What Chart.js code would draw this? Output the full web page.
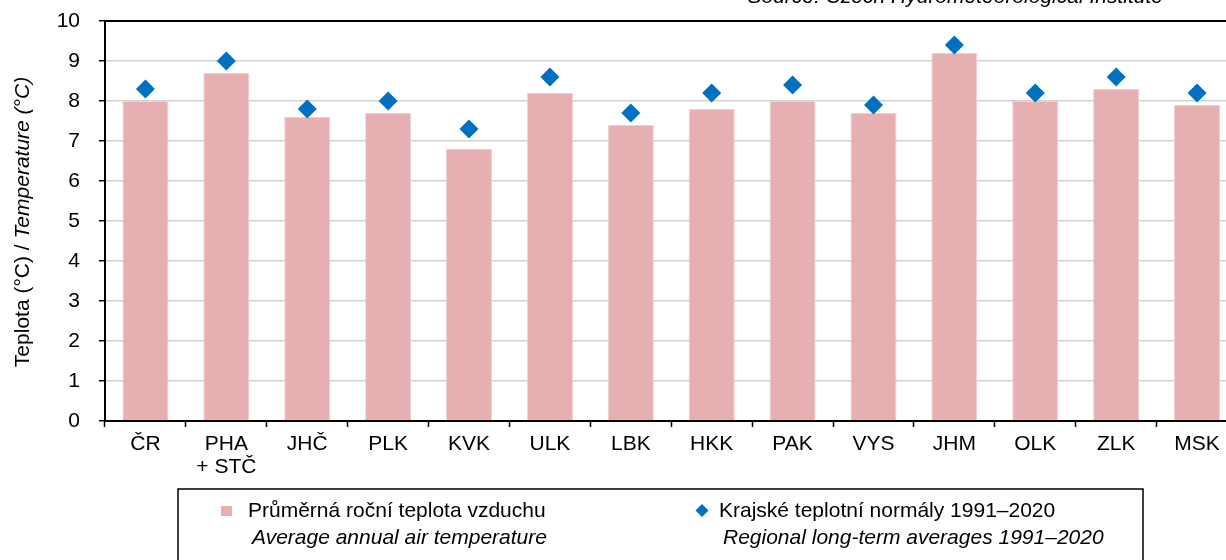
<!DOCTYPE html>
<html>
<head>
<meta charset="utf-8">
<script src="https://cdn.jsdelivr.net/npm/chart.js@4.4.0/dist/chart.umd.min.js"></script>
<style>
html, body { margin: 0; padding: 0; background: #fff; overflow: hidden; }
#wrap { width: 1247px; height: 560px; position: relative; }
</style>
</head>
<body>
<div id="wrap"><canvas id="chart"></canvas></div>
<script>
var regions = ['ČR', ['PHA', '+ STČ'], 'JHČ', 'PLK', 'KVK', 'ULK', 'LBK', 'HKK', 'PAK', 'VYS', 'JHM', 'OLK', 'ZLK', 'MSK'];
var avgTemp = [8.0, 8.7, 7.6, 7.7, 6.8, 8.2, 7.4, 7.8, 8.0, 7.7, 9.2, 8.0, 8.3, 7.9];
var normals = [8.3, 9.0, 7.8, 8.0, 7.3, 8.6, 7.7, 8.2, 8.4, 7.9, 9.4, 8.2, 8.6, 8.2];
var yMin = 0, yMax = 10, yStep = 1;

var legendCz = ['Průměrná roční teplota vzduchu', 'Krajské teplotní normály 1991–2020'];
var legendEn = ['Average annual air temperature', 'Regional long-term averages 1991–2020'];

var FONT = '"Liberation Sans", Arial, sans-serif';
var FS = 21;
var barColor = '#e6b0b3';
var dotColor = '#0070c0';

// extra texts: source line, y title, top border, two-language legend
var extras = {
    id: 'extras',
    afterDraw: function(chart) {
        var ctx = chart.ctx, a = chart.chartArea;
        ctx.save();
        ctx.strokeStyle = '#000';
        ctx.lineWidth = 2;
        ctx.beginPath();
        ctx.moveTo(a.left, a.top); ctx.lineTo(a.right, a.top);
        ctx.stroke();

        ctx.fillStyle = '#000';
        ctx.font = 'italic ' + FS + 'px ' + FONT;
        ctx.textAlign = 'right';
        ctx.textBaseline = 'alphabetic';
        ctx.fillText('Source: Czech Hydrometeorological Institute', 1163, 3);

        // y title, mixed upright/italic
        ctx.translate(29, 222);
        ctx.rotate(-Math.PI / 2);
        ctx.textAlign = 'left';
        var p1 = 'Teplota (°C) / ', p2 = 'Temperature (°C)';
        ctx.font = FS + 'px ' + FONT;
        var w1 = ctx.measureText(p1).width;
        ctx.font = 'italic ' + FS + 'px ' + FONT;
        var w2 = ctx.measureText(p2).width;
        var x0 = -(w1 + w2) / 2;
        ctx.font = FS + 'px ' + FONT;
        ctx.fillText(p1, x0, 0);
        ctx.font = 'italic ' + FS + 'px ' + FONT;
        ctx.fillText(p2, x0 + w1, 0);
        ctx.restore();

        // legend box
        ctx.save();
        ctx.strokeStyle = '#000';
        ctx.lineWidth = 1.5;
        ctx.strokeRect(178, 489, 965, 90);
        ctx.fillStyle = barColor;
        ctx.fillRect(221, 506, 11, 10);
        ctx.fillStyle = dotColor;
        ctx.beginPath();
        ctx.moveTo(702, 504); ctx.lineTo(708.5, 510.5); ctx.lineTo(702, 517); ctx.lineTo(695.5, 510.5);
        ctx.closePath(); ctx.fill();
        ctx.fillStyle = '#000';
        ctx.textAlign = 'left';
        ctx.textBaseline = 'middle';
        ctx.font = FS + 'px ' + FONT;
        ctx.fillText(legendCz[0], 248, 511);
        ctx.fillText(legendCz[1], 719, 511);
        ctx.font = 'italic ' + FS + 'px ' + FONT;
        ctx.fillText(legendEn[0], 252, 538);
        ctx.fillText(legendEn[1], 723, 538);
        ctx.restore();
    }
};

var chart = new Chart(document.getElementById('chart'), {
    type: 'bar',
    data: {
        labels: regions,
        datasets: [{
            type: 'line',
            label: legendCz[1],
            data: normals,
            showLine: false,
            pointStyle: 'rectRot',
            pointRadius: 9.5,
            pointHoverRadius: 9.5,
            pointBackgroundColor: dotColor,
            pointBorderWidth: 0,
            borderColor: dotColor
        }, {
            label: legendCz[0],
            data: avgTemp,
            backgroundColor: barColor,
            borderColor: '#f0d0d2',
            borderWidth: 1,
            barPercentage: 0.57,
            categoryPercentage: 1
        }]
    },
    options: {
        responsive: true,
        maintainAspectRatio: false,
        animation: false,
        layout: { padding: { top: 21, right: 3, left: 0, bottom: 0 } },
        plugins: {
            legend: { display: false },
            tooltip: { enabled: false }
        },
        scales: {
            x: {
                grid: { offset: true, drawOnChartArea: false, tickLength: 6, tickColor: '#000', tickWidth: 1.5 },
                border: { color: '#000', width: 2 },
                ticks: { color: '#000', font: { family: FONT, size: FS, lineHeight: 1.1 }, padding: 6, maxRotation: 0, autoSkip: false },
                afterFit: function(s) { s.height = 139; s.paddingLeft = 0; s.paddingRight = 0; }
            },
            y: {
                min: yMin, max: yMax,
                ticks: { stepSize: yStep, color: '#000', font: { family: FONT, size: FS }, padding: 19 },
                grid: { color: '#d2d2d2', lineWidth: 1.5, tickColor: '#000', tickLength: 6, tickWidth: 1.5 },
                border: { color: '#000', width: 2 },
                afterFit: function(s) { s.width = 105; s.paddingTop = 0; s.paddingBottom = 0; }
            }
        }
    },
    plugins: [extras]
});
</script>
</body>
</html>
